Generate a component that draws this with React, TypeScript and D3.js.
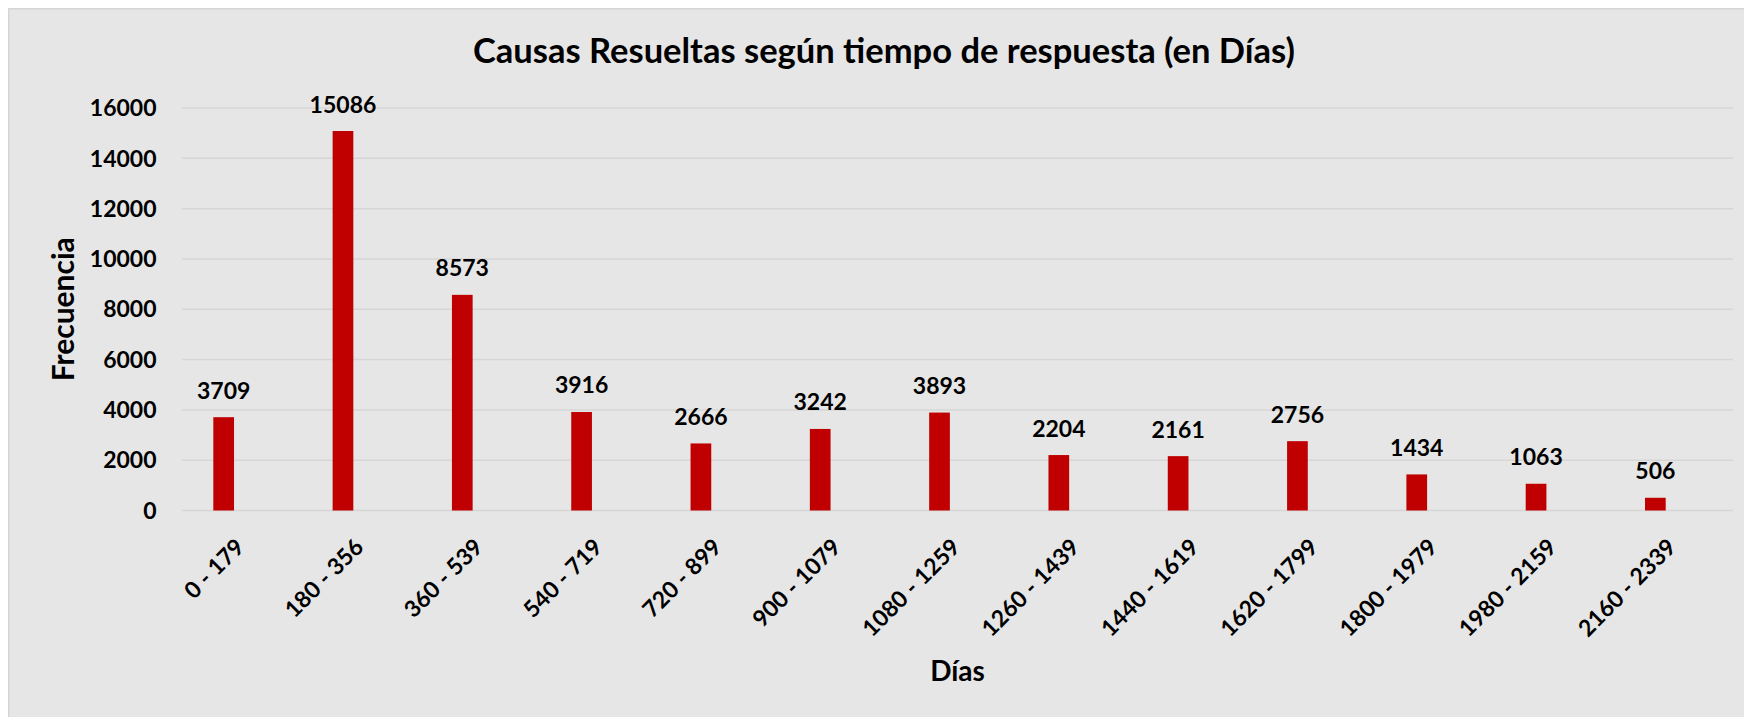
import React, { useEffect, useRef } from 'react'
import * as d3 from 'd3'

const categories = [
  '0 - 179', '180 - 356', '360 - 539', '540 - 719', '720 - 899', '900 - 1079',
  '1080 - 1259', '1260 - 1439', '1440 - 1619', '1620 - 1799', '1800 - 1979',
  '1980 - 2159', '2160 - 2339'
]
const frecuencia = [3709, 15086, 8573, 3916, 2666, 3242, 3893, 2204, 2161, 2756, 1434, 1063, 506]
const yTicks = [0, 2000, 4000, 6000, 8000, 10000, 12000, 14000, 16000]
// excel cluster slots: the visible series sits in the first slot, second one is empty
const slots = ['Frecuencia', 'vacío']

const title = 'Causas Resueltas según tiempo de respuesta (en Días)'
const xTitle = 'Días'
const yTitle = 'Frecuencia'

const width = 1736
const height = 709
const margin = { top: 100, right: 11, bottom: 206.5, left: 174 }
const font = 'Lato, "Open Sans", sans-serif'

const App = () => {
  const ref = useRef<SVGSVGElement>(null)

  useEffect(() => {
    const svg = d3.select(ref.current)
    svg.selectAll('*').remove()

    const innerW = width - margin.left - margin.right
    const innerH = height - margin.top - margin.bottom

    const x = d3.scaleBand().domain(categories).range([0, innerW])
    const x1 = d3.scaleBand().domain(slots).range([0, x.bandwidth()])
      .paddingInner(0.4245).paddingOuter(0.8706)
    const y = d3.scaleLinear().domain([0, 16000]).range([innerH, 0])

    // panel
    svg.append('rect')
      .attr('x', 0.75).attr('y', 0.75)
      .attr('width', width + 20).attr('height', height + 20)
      .attr('fill', '#e6e6e6')
      .attr('stroke', '#d5d5d5')
      .attr('stroke-width', 1.5)

    svg.append('text')
      .attr('x', 876).attr('y', 55.3)
      .attr('text-anchor', 'middle')
      .attr('font-family', font).attr('font-weight', 700).attr('font-size', 34.5)
      .attr('fill', '#000')
      .text(title)

    const g = svg.append('g')
      .attr('transform', `translate(${margin.left},${margin.top})`)

    // grid
    g.append('g')
      .selectAll('line')
      .data(yTicks)
      .enter()
      .append('line')
      .attr('x1', 0).attr('x2', innerW)
      .attr('y1', d => y(d)).attr('y2', d => y(d))
      .attr('stroke', '#d6d6d6')
      .attr('stroke-width', 1.5)

    // y labels
    g.append('g')
      .selectAll('text')
      .data(yTicks)
      .enter()
      .append('text')
      .attr('x', -25.5)
      .attr('y', d => y(d) + 8.2)
      .attr('text-anchor', 'end')
      .attr('font-family', font).attr('font-weight', 700).attr('font-size', 23)
      .text(d => d)

    // bars
    g.append('g')
      .selectAll('rect')
      .data(frecuencia)
      .enter()
      .append('rect')
      .attr('x', (d, i) => x(categories[i]) + x1('Frecuencia'))
      .attr('y', d => y(d))
      .attr('width', x1.bandwidth())
      .attr('height', d => innerH - y(d))
      .attr('fill', '#c00000')

    // value labels
    g.append('g')
      .selectAll('text')
      .data(frecuencia)
      .enter()
      .append('text')
      .attr('x', (d, i) => x(categories[i]) + x1('Frecuencia') + x1.bandwidth() / 2)
      .attr('y', d => y(d) - 18.5)
      .attr('text-anchor', 'middle')
      .attr('font-family', font).attr('font-weight', 700).attr('font-size', 23)
      .text(d => d)

    // category labels
    g.append('g')
      .selectAll('text')
      .data(categories)
      .enter()
      .append('text')
      .attr('transform', d => `translate(${x(d) + x.bandwidth() / 2 + 4},${innerH + 38}) rotate(-45)`)
      .attr('text-anchor', 'end')
      .attr('font-family', font).attr('font-weight', 700).attr('font-size', 23)
      .text(d => d)

    // axis titles
    g.append('text')
      .attr('x', innerW / 2).attr('y', 672.7 - margin.top)
      .attr('text-anchor', 'middle')
      .attr('font-family', font).attr('font-weight', 700).attr('font-size', 28)
      .text(xTitle)

    g.append('text')
      .attr('transform', `translate(${66.3 - margin.left},${innerH / 2}) rotate(-90)`)
      .attr('text-anchor', 'middle')
      .attr('font-family', font).attr('font-weight', 700).attr('font-size', 30)
      .text(yTitle)

    return () => { svg.selectAll('*').remove() }
  }, [])

  return (
    <svg ref={ref} width={width} height={height}
      style={{ position: 'absolute', left: 8, top: 8, display: 'block' }} />
  )
}

export default App
